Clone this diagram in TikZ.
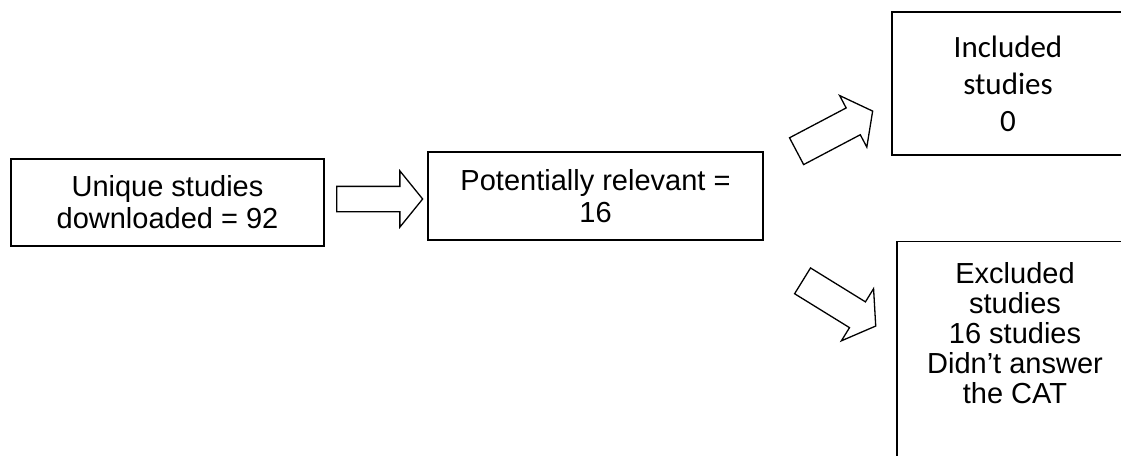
\documentclass[tikz,border=0pt]{standalone}
\usepackage{fontspec}
\setmainfont{Liberation Sans}
\newfontfamily\calibri{Carlito}
\usetikzlibrary{shapes.arrows}

\tikzset{
	box/.style={draw, line width=1.4pt, align=center, inner sep=0pt, font=\fontsize{29}{32}\selectfont},
	blockarrow/.style={single arrow, draw, line width=1.3pt, anchor=tail, inner xsep=0pt, minimum height=86pt}
}

\begin{document}
\begin{tikzpicture}[x=1pt, y=-1pt]
	\useasboundingbox (0,0) rectangle (1121,455);
	\clip (0,0) rectangle (1121,455);

	% Nodes {unique, relevant, included, excluded}
	\node [box, minimum width=313pt, minimum height=87pt] 	(unique)	at (167.5,202.5)	{Unique studies\\downloaded = 92};
	\node [box, minimum width=335pt, minimum height=88pt] 	(relevant)	at (595.5,196)	{Potentially relevant =\\16};
	\node [box, minimum width=232pt, minimum height=143pt, font=\calibri\fontsize{31}{37}\selectfont] 	(included)	at (1008,83.5)	{Included\\studies\\0};
	\node [box, anchor=north, minimum width=236pt, inner ysep=21pt, text depth=160pt, font=\fontsize{29}{30}\selectfont] 	(excluded)	at (1015,241)	{Excluded\\studies\\16 studies\\Didn’t answer\\the CAT};

	% Arrows
	\node [blockarrow, inner ysep=12pt, minimum width=55pt, single arrow head extend=15.5pt, single arrow tip angle=102] 	(arrowA)	at (336,199)	{};
	\node [blockarrow, rotate=27.8, inner ysep=14.5pt, minimum width=57pt, single arrow head extend=14pt, single arrow tip angle=106] 	(arrowB)	at (796,151.5)	{};
	\node [blockarrow, rotate=-31.7, inner ysep=14.5pt, minimum width=60pt, single arrow head extend=15.5pt, single arrow tip angle=110] 	(arrowC)	at (802,280.5)	{};

\end{tikzpicture}
\end{document}
